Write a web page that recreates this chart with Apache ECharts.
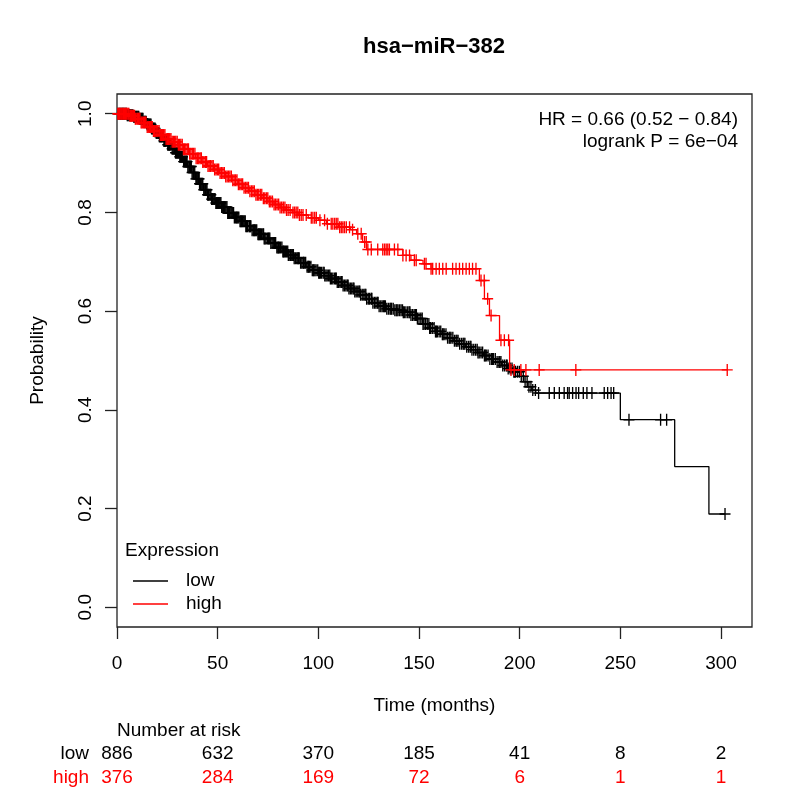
<!DOCTYPE html>
<html lang="en">
<head>
    <meta charset="UTF-8">
    <script src="https://cdn.jsdelivr.net/npm/echarts@6/dist/echarts.min.js"></script>
    <title>hsa-miR-382</title>
    <style>
        html, body { margin: 0; padding: 0; background: #fff; }
    </style>
</head>
<body>
    <div id="km" style="width: 800px;height: 800px;"></div>
    <script>
        // axis ticks
        var xTicks = [0, 50, 100, 150, 200, 250, 300];
        var yTicks = [0, 0.2, 0.4, 0.6, 0.8, 1.0];
        var yTickLabels = ['0.0', '0.2', '0.4', '0.6', '0.8', '1.0'];

        // number at risk
        var riskGroups = ['high', 'low'];
        var riskTimes = [0, 50, 100, 150, 200, 250, 300];
        var riskLow = [886, 632, 370, 185, 41, 8, 2];
        var riskHigh = [376, 284, 169, 72, 6, 1, 1];

        // low expression: step points (time, survival after drop)
        var lowTimes = [0, 5, 8, 11, 13, 15, 17, 19, 21, 23, 25, 27, 29, 31, 33, 35, 37, 39, 41, 43, 45, 47, 49,
            52, 55, 58, 61, 64, 67, 70, 73, 76, 79, 82, 85, 88, 91, 94, 97, 100, 103, 106, 109, 112, 115, 118,
            121, 124, 127, 130, 134, 138, 142, 146, 149, 152, 155, 158, 161, 164, 167, 170, 173, 176, 179, 182,
            185, 188, 191, 194, 197, 200, 202, 204, 206, 208, 250, 277, 294, 302];
        var lowSurv = [1.0, 0.997, 0.994, 0.990, 0.984, 0.978, 0.970, 0.961, 0.954, 0.945, 0.937, 0.929, 0.921,
            0.913, 0.903, 0.893, 0.881, 0.868, 0.858, 0.846, 0.836, 0.827, 0.819, 0.811, 0.799, 0.790, 0.782,
            0.772, 0.764, 0.756, 0.747, 0.738, 0.729, 0.721, 0.714, 0.707, 0.698, 0.690, 0.683, 0.678, 0.672,
            0.666, 0.659, 0.652, 0.646, 0.640, 0.633, 0.625, 0.617, 0.610, 0.605, 0.602, 0.598, 0.592, 0.585,
            0.574, 0.566, 0.559, 0.553, 0.546, 0.540, 0.534, 0.528, 0.522, 0.516, 0.510, 0.503, 0.497, 0.490,
            0.484, 0.477, 0.468, 0.457, 0.447, 0.440, 0.434, 0.380, 0.285, 0.189, 0.189];
        var lowCensor = [0.5, 1.2, 1.6, 2.0, 2.4, 2.8, 3.1, 3.5, 3.9, 4.4, 4.7, 5.1, 5.5, 6.0, 6.3, 6.7, 7.1,
            7.5, 7.9, 8.3, 8.7, 9.2, 9.6, 10.0, 10.4, 10.8, 11.1, 11.5, 11.9, 12.2, 12.6, 12.9, 13.3, 13.7, 14.1,
            14.5, 15.0, 15.4, 15.8, 16.2, 16.5, 16.9, 17.2, 17.6, 18.0, 18.4, 18.9, 19.5, 19.9, 20.3, 20.7, 21.1,
            21.6, 22.0, 22.4, 22.9, 23.3, 23.7, 24.2, 24.8, 25.2, 25.6, 26.0, 26.3, 26.8, 27.4, 27.8, 28.2, 28.6,
            29.1, 29.6, 30.0, 30.5, 30.9, 31.2, 31.6, 32.0, 32.5, 33.1, 33.6, 34.0, 34.5, 34.8, 35.2, 35.7, 36.1,
            36.5, 36.9, 37.3, 37.8, 38.0, 38.6, 39.2, 39.6, 40.1, 40.5, 40.8, 41.0, 41.5, 41.8, 42.2, 42.6, 43.1,
            43.6, 43.9, 44.3, 44.7, 45.0, 45.4, 45.7, 46.2, 46.6, 47.0, 47.4, 47.8, 48.3, 48.7, 49.1, 49.5, 49.9,
            50.4, 50.8, 51.2, 51.6, 52.0, 52.5, 52.9, 53.3, 53.7, 54.1, 54.6, 55.0, 55.4, 55.8, 56.2, 56.7, 57.1,
            57.5, 57.9, 58.3, 58.8, 59.3, 59.6, 60.0, 60.5, 61.1, 61.5, 61.8, 62.3, 62.7, 63.2, 63.7, 64.0, 64.4,
            64.9, 65.6, 65.9, 66.2, 66.5, 67.1, 67.7, 68.1, 68.4, 68.9, 69.4, 70.0, 70.4, 70.7, 71.2, 71.7, 72.4,
            72.8, 73.1, 73.5, 74.0, 74.7, 75.2, 75.5, 75.9, 76.4, 77.0, 77.5, 77.9, 78.3, 78.8, 79.4, 79.9, 80.2,
            80.6, 81.2, 81.9, 82.4, 82.7, 83.1, 83.7, 84.2, 84.8, 85.1, 85.5, 86.2, 86.8, 87.3, 87.6, 88.0, 88.6,
            89.3, 89.8, 90.1, 90.5, 91.2, 91.8, 92.4, 92.7, 93.0, 93.7, 94.4, 94.9, 95.2, 95.6, 96.3, 97.0, 97.5,
            97.8, 98.3, 98.9, 99.7, 100.2, 100.5, 101.0, 101.6, 102.4, 102.9, 103.2, 103.8, 104.4, 105.1, 105.7,
            106.0, 106.5, 107.2, 108.0, 108.6, 108.9, 109.4, 110.1, 110.8, 111.5, 111.8, 112.3, 113.0, 113.7,
            114.4, 114.8, 115.2, 115.9, 116.6, 117.3, 117.7, 118.1, 118.8, 119.6, 120.2, 120.6, 121.0, 121.8,
            122.6, 123.2, 123.6, 124.0, 124.8, 125.5, 126.3, 126.6, 127.1, 127.9, 128.6, 129.3, 129.7, 130.2,
            131.0, 131.7, 132.4, 132.8, 133.3, 134.0, 134.8, 135.6, 136.0, 136.4, 137.2, 138.0, 138.7, 139.1,
            139.6, 140.4, 141.1, 141.8, 142.2, 142.7, 143.5, 144.4, 145.1, 145.5, 146.0, 146.8, 147.6, 148.3,
            148.7, 149.2, 150.0, 150.9, 151.6, 152.0, 152.5, 153.3, 154.1, 154.9, 155.3, 155.8, 156.6, 157.5,
            158.2, 158.6, 159.1, 160.0, 160.8, 161.6, 162.0, 162.5, 163.4, 164.2, 165.0, 165.4, 165.9, 166.8,
            167.6, 168.4, 168.8, 169.4, 170.2, 171.1, 171.9, 172.3, 172.8, 173.7, 174.6, 175.4, 175.8, 176.3,
            177.2, 178.1, 178.9, 179.3, 179.9, 180.8, 181.6, 182.5, 182.9, 183.4, 184.3, 185.2, 186.1, 186.5,
            187.0, 187.9, 188.8, 189.7, 190.1, 190.7, 191.6, 192.5, 193.4, 193.8, 194.3, 195.3, 196.2, 197.1,
            197.5, 198.0, 199.0, 199.9, 200.8, 201.8, 202.7, 203.7, 204.6, 205.6, 206.5, 207.8, 209.4, 214.7,
            217.2, 219.7, 222.1, 223.8, 224.6, 226.3, 228.0, 229.3, 231.6, 233.4, 235.9, 242.0, 243.7, 245.4,
            246.7, 254.3, 270.0, 273.0, 302.0];

        // high expression
        var highTimes = [0, 6, 9, 12, 15, 18, 21, 24, 27, 30, 33, 36, 39, 42, 45, 48, 51, 54, 57, 60, 63, 66,
            69, 72, 75, 78, 81, 84, 87, 90, 95, 100, 104, 110, 116, 119, 122, 124, 142, 146, 152, 156, 180, 182.5,
            185, 190, 195, 303.1];
        var highSurv = [1.0, 0.996, 0.990, 0.982, 0.973, 0.965, 0.957, 0.949, 0.943, 0.937, 0.928, 0.919, 0.910,
            0.902, 0.894, 0.887, 0.880, 0.873, 0.865, 0.857, 0.850, 0.843, 0.836, 0.829, 0.822, 0.816, 0.810,
            0.805, 0.800, 0.795, 0.789, 0.784, 0.777, 0.770, 0.765, 0.757, 0.740, 0.725, 0.713, 0.703, 0.696,
            0.686, 0.662, 0.625, 0.591, 0.541, 0.481, 0.481];
        var highCensor = [0.4, 0.8, 1.2, 1.6, 2.1, 2.5, 2.9, 3.3, 3.8, 4.2, 4.6, 5.0, 5.5, 5.9, 6.4, 6.8, 7.2,
            7.6, 8.2, 8.7, 9.1, 9.5, 10.1, 10.6, 11.0, 11.4, 12.0, 12.5, 13.1, 13.6, 14.0, 14.4, 15.0, 15.5, 16.1,
            16.6, 17.0, 17.5, 18.1, 18.7, 19.3, 19.8, 20.3, 20.9, 21.5, 22.1, 22.7, 23.2, 23.8, 24.4, 25.0, 25.6,
            26.2, 26.8, 27.4, 28.0, 28.6, 29.2, 29.9, 30.5, 31.1, 31.7, 32.4, 33.0, 33.6, 34.2, 34.9, 35.5, 36.1,
            36.7, 37.4, 38.0, 38.7, 39.3, 40.0, 40.6, 41.3, 41.9, 42.6, 43.2, 43.9, 44.5, 45.2, 45.8, 46.5, 47.2,
            47.8, 48.5, 49.2, 49.9, 50.5, 51.2, 51.9, 52.6, 53.3, 54.0, 54.7, 55.4, 56.1, 56.8, 57.5, 58.2, 58.9,
            59.6, 60.3, 61.0, 61.7, 62.4, 63.1, 63.9, 64.6, 65.3, 66.0, 66.8, 67.5, 68.2, 69.0, 69.7, 70.4, 71.2,
            71.9, 72.7, 73.4, 74.2, 74.9, 75.7, 76.4, 77.2, 78.0, 78.7, 79.5, 80.3, 81.0, 81.8, 82.6, 83.4, 84.2,
            85.0, 86.0, 87.4, 88.2, 89.0, 89.8, 90.6, 91.5, 92.4, 94.0, 96.5, 97.3, 98.2, 99.0, 100.8, 103.1,
            104.5, 106.4, 107.2, 108.1, 108.9, 109.7, 110.6, 111.4, 112.2, 113.0, 113.9, 115.5, 117.0, 119.6,
            121.3, 123.0, 123.8, 124.6, 126.3, 129.5, 132.0, 132.9, 133.7, 134.5, 135.3, 137.8, 139.5, 142.0,
            143.6, 145.3, 147.7, 148.6, 152.7, 153.5, 156.0, 156.8, 158.5, 160.1, 161.8, 163.5, 166.7, 168.4,
            170.1, 171.7, 173.4, 175.0, 176.6, 178.3, 180.8, 182.4, 184.1, 185.8, 190.7, 192.4, 194.5, 195.7,
            197.3, 200.6, 203.1, 209.7, 227.9, 303.1];

        var FONT = '"Liberation Sans", Arial, Helvetica, sans-serif';
        var RED = '#ff0000';
        var PLUS = 'path://M0,6L12,6M6,0L6,12';

        function stepData(times, surv) {
            return times.map(function (t, i) { return [t, surv[i]]; });
        }
        // y of a censor mark = curve value at that time
        function censorData(cens, times, surv) {
            return cens.map(function (c) {
                var s = surv[0];
                for (var i = 0; i < times.length; i++) {
                    if (times[i] <= c) s = surv[i];
                }
                return [c, s];
            });
        }
        function riskData(group, counts) {
            return riskTimes.map(function (t, i) { return [t, group, counts[i]]; });
        }
        function riskText(color) {
            return function (params, api) {
                var p = api.coord([api.value(0), api.value(1)]);
                return {
                    type: 'text', x: p[0], y: p[1], silent: true,
                    style: { text: String(api.value(2)), fill: color, font: '19px ' + FONT, textAlign: 'center', textVerticalAlign: 'middle' }
                };
            };
        }

        var chart = echarts.init(document.getElementById('km'));
        chart.setOption({
            animation: false,
            textStyle: { fontFamily: FONT },
            grid: [
                { left: 117, top: 94, width: 635, height: 533, show: true, borderColor: '#222', borderWidth: 1.3, backgroundColor: 'transparent' },
                { left: 117, top: 742, width: 635, height: 48 }
            ],
            legend: {
                data: ['low', 'high'],
                orient: 'vertical',
                left: 128,
                top: 566,
                icon: 'rect',
                itemWidth: 35,
                itemHeight: 1.3,
                itemGap: 3,
                selectedMode: false,
                textStyle: { fontFamily: FONT, fontSize: 19, color: '#000', lineHeight: 20, padding: [0, 0, 0, 13] }
            },
            xAxis: [
                {
                    gridIndex: 0, type: 'value', min: 0, max: 315.4,
                    name: 'Time (months)', nameLocation: 'middle', nameGap: 69,
                    nameTextStyle: { fontFamily: FONT, fontSize: 19, color: '#000' },
                    axisLine: { show: false, onZero: false },
                    axisTick: { show: true, inside: false, length: 12, customValues: xTicks, lineStyle: { color: '#222', width: 1.3 } },
                    axisLabel: { customValues: xTicks, margin: 27, fontFamily: FONT, fontSize: 19, color: '#000' },
                    splitLine: { show: false }
                },
                { gridIndex: 1, type: 'value', min: 0, max: 315.4, show: false }
            ],
            yAxis: [
                {
                    gridIndex: 0, type: 'value', min: -0.04, max: 1.04,
                    name: 'Probability', nameLocation: 'middle', nameGap: 70,
                    nameTextStyle: { fontFamily: FONT, fontSize: 19, color: '#000' },
                    axisLine: { show: false, onZero: false },
                    axisTick: { show: true, inside: false, length: 12, customValues: yTicks, lineStyle: { color: '#222', width: 1.3 } },
                    axisLabel: {
                        customValues: yTicks, rotate: 90, margin: 22, fontFamily: FONT, fontSize: 19, color: '#000',
                        formatter: function (v) { return yTickLabels[yTicks.indexOf(v)]; }
                    },
                    splitLine: { show: false }
                },
                {
                    gridIndex: 1, type: 'category', data: riskGroups,
                    axisLine: { show: false }, axisTick: { show: false },
                    axisLabel: {
                        interval: 0, margin: 28, fontFamily: FONT, fontSize: 19,
                        color: function (v) { return v === 'high' ? RED : '#000'; }
                    }
                }
            ],
            series: [
                {
                    name: 'low', type: 'line', step: 'end', xAxisIndex: 0, yAxisIndex: 0,
                    data: stepData(lowTimes, lowSurv), showSymbol: false, silent: true,
                    lineStyle: { color: '#000', width: 1.3 }, itemStyle: { color: '#000' }, z: 3
                },
                {
                    name: 'high', type: 'line', step: 'end', xAxisIndex: 0, yAxisIndex: 0,
                    data: stepData(highTimes, highSurv), showSymbol: false, silent: true,
                    lineStyle: { color: RED, width: 1.3 }, itemStyle: { color: RED }, z: 4
                },
                {
                    name: 'low censored', type: 'scatter', xAxisIndex: 0, yAxisIndex: 0, large: false,
                    data: censorData(lowCensor, lowTimes, lowSurv), symbol: PLUS, symbolSize: [11, 12], silent: true,
                    itemStyle: { color: 'rgba(0,0,0,0)', borderColor: '#000', borderWidth: 1.4, opacity: 1 }, z: 3
                },
                {
                    name: 'high censored', type: 'scatter', xAxisIndex: 0, yAxisIndex: 0, large: false,
                    data: censorData(highCensor, highTimes, highSurv), symbol: PLUS, symbolSize: [11, 12], silent: true,
                    itemStyle: { color: 'rgba(0,0,0,0)', borderColor: RED, borderWidth: 1.4, opacity: 1 }, z: 4
                },
                {
                    name: 'risk low', type: 'custom', xAxisIndex: 1, yAxisIndex: 1, silent: true,
                    data: riskData('low', riskLow), renderItem: riskText('#000')
                },
                {
                    name: 'risk high', type: 'custom', xAxisIndex: 1, yAxisIndex: 1, silent: true,
                    data: riskData('high', riskHigh), renderItem: riskText(RED)
                }
            ],
            graphic: [
                { type: 'text', x: 434, y: 47, silent: true,
                  style: { text: 'hsa\u2212miR\u2212382', font: 'bold 22px ' + FONT, fill: '#000', textAlign: 'center', textVerticalAlign: 'middle' } },
                { type: 'text', x: 738, y: 120, silent: true,
                  style: { text: 'HR = 0.66 (0.52 \u2212 0.84)', font: '19px ' + FONT, fill: '#000', textAlign: 'right', textVerticalAlign: 'middle' } },
                { type: 'text', x: 738, y: 142, silent: true,
                  style: { text: 'logrank P = 6e\u221204', font: '19px ' + FONT, fill: '#000', textAlign: 'right', textVerticalAlign: 'middle' } },
                { type: 'text', x: 125, y: 551, silent: true,
                  style: { text: 'Expression', font: '19px ' + FONT, fill: '#000', textAlign: 'left', textVerticalAlign: 'middle' } },
                { type: 'text', x: 117, y: 731, silent: true,
                  style: { text: 'Number at risk', font: '19px ' + FONT, fill: '#000', textAlign: 'left', textVerticalAlign: 'middle' } }
            ]
        });
    </script>
</body>
</html>
